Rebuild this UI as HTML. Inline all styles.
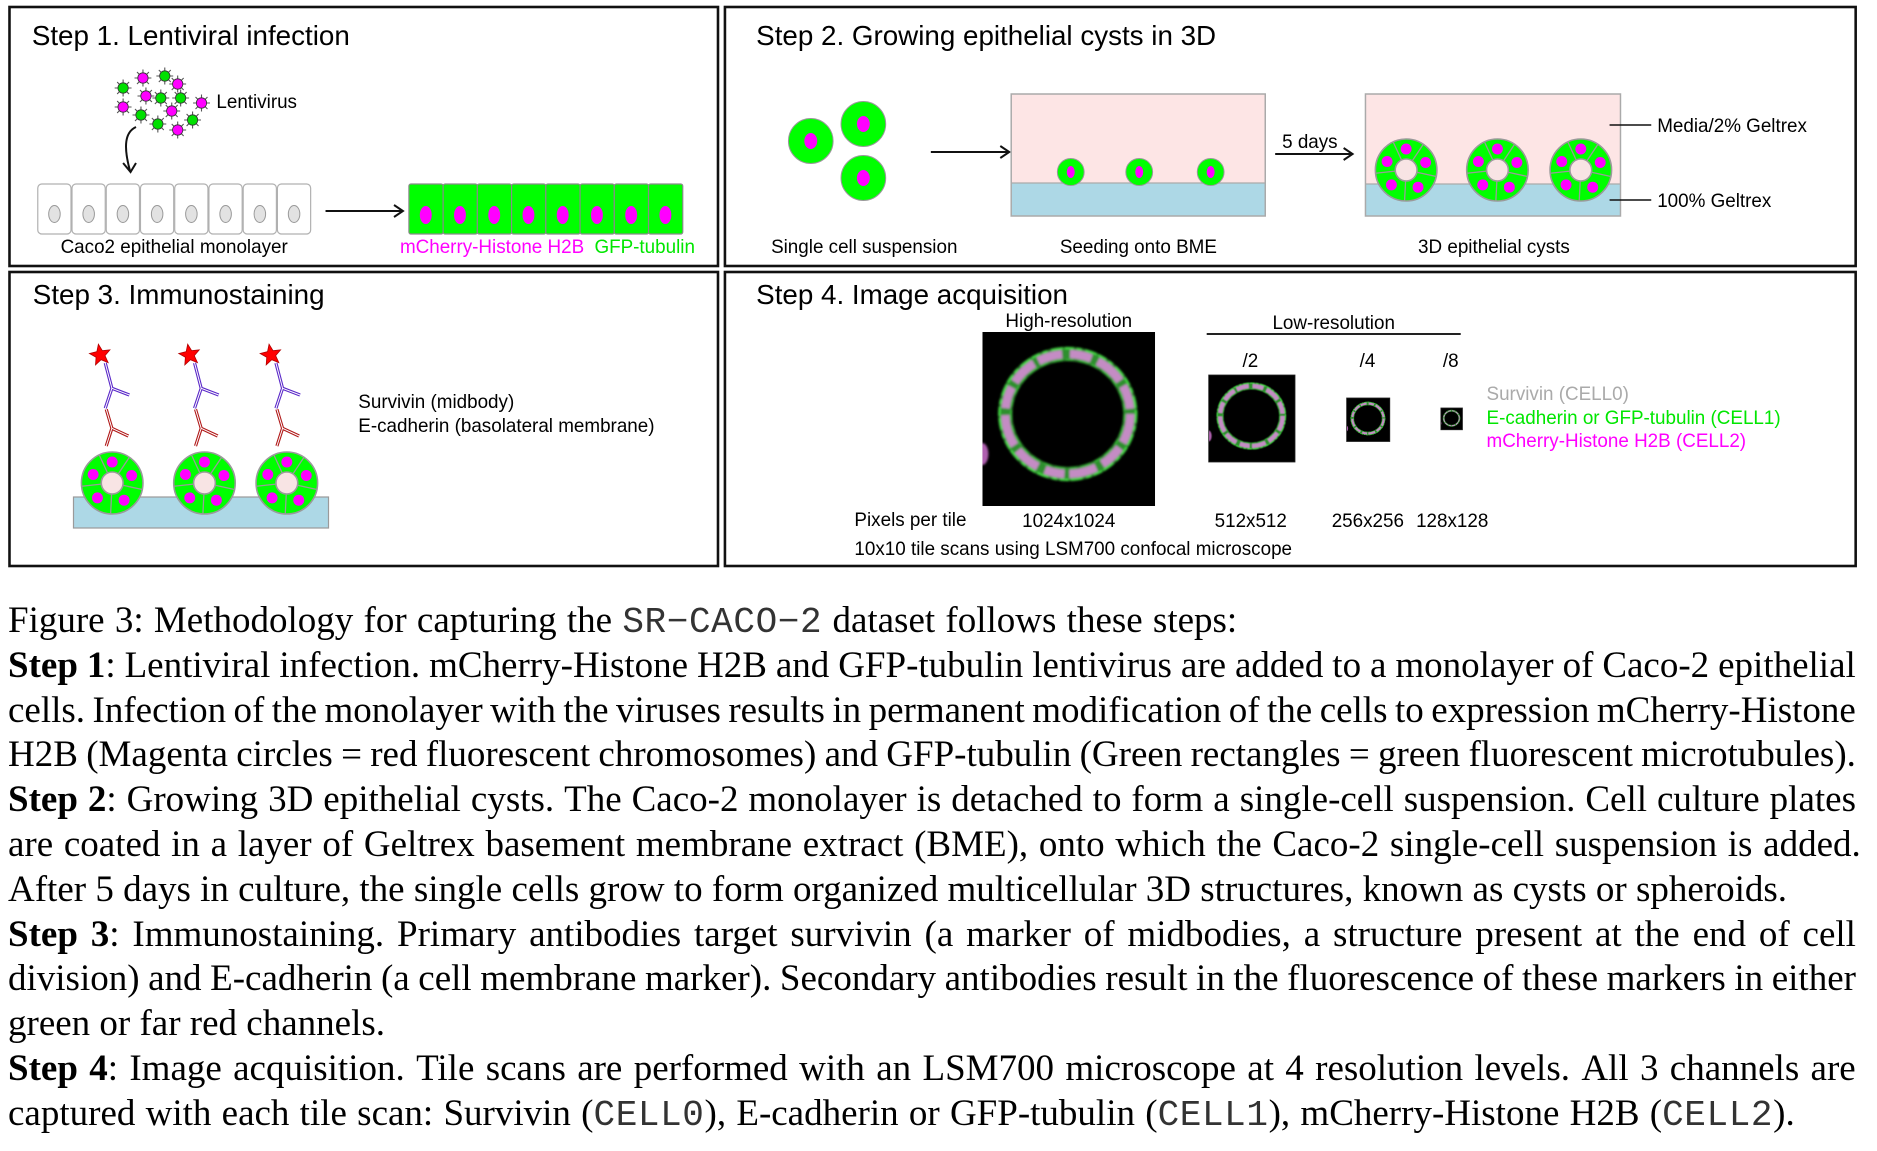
<!DOCTYPE html>
<html><head><meta charset="utf-8"><style>
html,body{margin:0;padding:0;background:#fff;}
body{width:1877px;height:1151px;position:relative;overflow:hidden;}
#cap{position:absolute;left:8px;top:599px;width:1848px;font-family:"Liberation Serif","Times New Roman",serif;font-size:37px;line-height:44.8px;color:#000;}
#cap > div{white-space:nowrap;height:44.8px;}
#cap > div.j{display:flex;justify-content:space-between;}
.tt{font-family:"Liberation Mono",monospace;font-size:36px;color:#333;letter-spacing:0.6px;}
</style></head><body>
<svg width="1877" height="580" style="position:absolute;left:0;top:0" font-family="Liberation Sans, Arial, sans-serif" xmlns="http://www.w3.org/2000/svg">
<defs>
  <g id="vs"><path d="M5 0H8.5M-5 0H-8.5M0 5V8.5M0 -5V-8.5M3.54 3.54L6.01 6.01M-3.54 -3.54L-6.01 -6.01M3.54 -3.54L6.01 -6.01M-3.54 3.54L-6.01 6.01" stroke="#555" stroke-width="1.1"/></g>
  <g id="vg"><use href="#vs"/><circle r="5.2" fill="#00e000" stroke="#333" stroke-width="0.8"/></g>
  <g id="vm"><use href="#vs"/><circle r="5.2" fill="#ff00ff" stroke="#333" stroke-width="0.8"/></g>
  <g id="cyst">
    <circle r="31" fill="#00ff00" stroke="#9a9a9a" stroke-width="1.6"/>
    <path d="M-4.65 -9.97L-13.1 -28.1M6.15 -9.12L17.3 -25.7M10.76 2.29L30.3 6.45M-0.58 10.99L-1.6 30.96M-10.94 1.15L-30.8 3.24" stroke="#9a9a9a" stroke-width="1.3"/>
    <circle r="11" fill="#f8e4e4" stroke="#9a9a9a" stroke-width="1.6"/>
    <circle cx="0" cy="-21" r="5.5" fill="#ff00ff"/>
    <circle cx="19.6" cy="-7.5" r="5.5" fill="#ff00ff"/>
    <circle cx="12" cy="17.2" r="5.5" fill="#ff00ff"/>
    <circle cx="-14.85" cy="14.85" r="5.5" fill="#ff00ff"/>
    <circle cx="-19.2" cy="-8.5" r="5.5" fill="#ff00ff"/>
  </g>
  <g id="ab">
    <path d="M5 8L11.7 33.3L5 53.3M11.7 33.3L29.3 40" fill="none" stroke="#5a28c8" stroke-width="3.2"/>
    <path d="M5 8L11.7 33.3L5 53.3M11.7 33.3L29.3 40" fill="none" stroke="#fff" stroke-width="1"/>
    <path d="M6 54.3L11.7 73.3L6 91M11.7 73.3L28.3 81" fill="none" stroke="#b01818" stroke-width="3.2"/>
    <path d="M6 54.3L11.7 73.3L6 91M11.7 73.3L28.3 81" fill="none" stroke="#fff" stroke-width="1"/>
    <polygon points="-1.91,-10.83 2.10,-4.31 9.71,-5.16 4.75,0.67 7.91,7.64 0.83,4.73 -4.82,9.89 -4.24,2.25 -10.89,-1.53 -3.45,-3.34" fill="#ff0000" stroke="#b00000" stroke-width="0.8"/>
  </g>
  <filter id="bl" x="-20%" y="-20%" width="140%" height="140%"><feGaussianBlur stdDeviation="1.1"/></filter>
  <clipPath id="cp"><rect width="174" height="174"/></clipPath>
  <g id="ring" clip-path="url(#cp)">
    <rect width="174" height="174" fill="#000"/>
    <g filter="url(#bl)">
      <ellipse cx="86" cy="82" rx="63" ry="60" fill="none" stroke="#2f8f2f" stroke-width="14"/>
      <ellipse cx="86" cy="82" rx="63" ry="60" fill="none" stroke="#c48cc4" stroke-width="8.5" stroke-dasharray="30 6 24 7 28 5 20 8 26 6 32 7 22 6 27 5 25 8 22 7"/>
      <ellipse cx="86" cy="82" rx="69" ry="66" fill="none" stroke="#44e044" stroke-width="2.2" stroke-dasharray="9 3 5 4 12 2"/>
      <ellipse cx="86" cy="82" rx="57" ry="54" fill="none" stroke="#38c038" stroke-width="1.6" stroke-dasharray="7 5 10 4"/>
      <ellipse cx="0" cy="122" rx="6" ry="11" fill="#b060b0"/>
    </g>
  </g>
</defs>

<g transform="translate(8,0) scale(0.9923,1) translate(-8,0)">
<!-- Boxes -->
<g fill="none" stroke="#111" stroke-width="2.6">
  <rect x="9.5" y="7" width="714" height="259"/>
  <rect x="730.5" y="7" width="1139.5" height="259"/>
  <rect x="9.5" y="272" width="714" height="294"/>
  <rect x="730.5" y="272" width="1139.5" height="294"/>
</g>

<!-- Titles -->
<g font-size="28" fill="#000">
  <text x="32" y="45">Step 1. Lentiviral infection</text>
  <text x="762" y="45">Step 2. Growing epithelial cysts in 3D</text>
  <text x="33" y="304">Step 3. Immunostaining</text>
  <text x="762" y="304">Step 4. Image acquisition</text>
</g>

<!-- Step 1 -->
<g>
  <use href="#vg" x="124" y="88"/><use href="#vg" x="166" y="76"/><use href="#vg" x="162" y="98"/>
  <use href="#vg" x="182" y="98"/><use href="#vg" x="142" y="115"/><use href="#vg" x="159" y="124"/>
  <use href="#vg" x="194" y="120"/>
  <use href="#vm" x="144" y="78"/><use href="#vm" x="179" y="84"/><use href="#vm" x="147" y="96"/>
  <use href="#vm" x="124" y="107"/><use href="#vm" x="173" y="111"/><use href="#vm" x="203" y="103"/>
  <use href="#vm" x="179" y="130"/>
  <text x="218" y="108" font-size="19">Lentivirus</text>
  <path d="M137 127C126 132 124 146 131 171" fill="none" stroke="#111" stroke-width="2"/>
  <path d="M124 163L131.5 172L137 163" fill="none" stroke="#111" stroke-width="2"/>
</g>
<g stroke="#b0b0b0" stroke-width="1.2" fill="#fff">
  <rect x="38" y="184" width="33.5" height="50" rx="4"/>
  <rect x="72.5" y="184" width="33.5" height="50" rx="4"/>
  <rect x="107" y="184" width="33.5" height="50" rx="4"/>
  <rect x="141.5" y="184" width="33.5" height="50" rx="4"/>
  <rect x="176" y="184" width="33.5" height="50" rx="4"/>
  <rect x="210.5" y="184" width="33.5" height="50" rx="4"/>
  <rect x="245" y="184" width="33.5" height="50" rx="4"/>
  <rect x="279.5" y="184" width="33.5" height="50" rx="4"/>
</g>
<g fill="#e2e2e2" stroke="#999" stroke-width="1">
  <ellipse cx="54.8" cy="214" rx="5.8" ry="8.5"/><ellipse cx="89.3" cy="214" rx="5.8" ry="8.5"/>
  <ellipse cx="123.8" cy="214" rx="5.8" ry="8.5"/><ellipse cx="158.3" cy="214" rx="5.8" ry="8.5"/>
  <ellipse cx="192.8" cy="214" rx="5.8" ry="8.5"/><ellipse cx="227.3" cy="214" rx="5.8" ry="8.5"/>
  <ellipse cx="261.8" cy="214" rx="5.8" ry="8.5"/><ellipse cx="296.3" cy="214" rx="5.8" ry="8.5"/>
</g>
<path d="M328 211H405M397 205L406 211L397 217" fill="none" stroke="#111" stroke-width="2"/>
<g stroke="#8a8a8a" stroke-width="1.2" fill="#00ff00">
  <rect x="412" y="184" width="34.5" height="50" rx="2"/>
  <rect x="446.5" y="184" width="34.5" height="50" rx="2"/>
  <rect x="481" y="184" width="34.5" height="50" rx="2"/>
  <rect x="515.5" y="184" width="34.5" height="50" rx="2"/>
  <rect x="550" y="184" width="34.5" height="50" rx="2"/>
  <rect x="584.5" y="184" width="34.5" height="50" rx="2"/>
  <rect x="619" y="184" width="34.5" height="50" rx="2"/>
  <rect x="653.5" y="184" width="34.5" height="50" rx="2"/>
</g>
<g fill="#ff00ff">
  <ellipse cx="429" cy="215" rx="6" ry="9"/><ellipse cx="463.5" cy="215" rx="6" ry="9"/>
  <ellipse cx="498" cy="215" rx="6" ry="9"/><ellipse cx="532.5" cy="215" rx="6" ry="9"/>
  <ellipse cx="567" cy="215" rx="6" ry="9"/><ellipse cx="601.5" cy="215" rx="6" ry="9"/>
  <ellipse cx="636" cy="215" rx="6" ry="9"/><ellipse cx="670.5" cy="215" rx="6" ry="9"/>
</g>
<g font-size="19">
  <text x="61" y="253" fill="#000">Caco2 epithelial monolayer</text>
  <text x="403" y="253" fill="#ff00ff">mCherry-Histone H2B</text>
  <text x="599" y="253" fill="#00e600">GFP-tubulin</text>
</g>

<!-- Step 2 -->
<g stroke="#999" stroke-width="1">
  <circle cx="817" cy="141" r="22.5" fill="#00ff00"/>
  <circle cx="870" cy="124" r="22.5" fill="#00ff00"/>
  <circle cx="870" cy="178" r="22.5" fill="#00ff00"/>
</g>
<g fill="#ff00ff">
  <ellipse cx="817" cy="141" rx="6.5" ry="8"/>
  <ellipse cx="870" cy="124" rx="6.5" ry="8"/>
  <ellipse cx="870" cy="178" rx="6.5" ry="8"/>
</g>
<path d="M938 152H1016M1008 146L1017 152L1008 158" fill="none" stroke="#111" stroke-width="2"/>
<rect x="1019" y="94" width="256" height="89" fill="#fde5e5"/>
<rect x="1019" y="183" width="256" height="33" fill="#add8e6"/>
<rect x="1019" y="94" width="256" height="122" fill="none" stroke="#aaa" stroke-width="1.5"/>
<line x1="1019" y1="183" x2="1275" y2="183" stroke="#aaa" stroke-width="1.2"/>
<g stroke="#999" stroke-width="1" fill="#00ff00">
  <ellipse cx="1079" cy="172" rx="13.5" ry="13.5"/>
  <ellipse cx="1148" cy="172" rx="13.5" ry="13.5"/>
  <ellipse cx="1220" cy="172" rx="13.5" ry="13.5"/>
</g>
<g fill="#ff00ff">
  <ellipse cx="1079" cy="172" rx="4" ry="6"/>
  <ellipse cx="1148" cy="172" rx="4" ry="6"/>
  <ellipse cx="1220" cy="172" rx="4" ry="6"/>
</g>
<text x="1292" y="148" font-size="19">5 days</text>
<path d="M1285 154H1362M1354 148L1363 154L1354 160" fill="none" stroke="#111" stroke-width="2"/>
<rect x="1376" y="94" width="257" height="90" fill="#fde5e5"/>
<rect x="1376" y="184" width="257" height="32" fill="#add8e6"/>
<rect x="1376" y="94" width="257" height="122" fill="none" stroke="#aaa" stroke-width="1.5"/>
<line x1="1376" y1="184" x2="1633" y2="184" stroke="#aaa" stroke-width="1.2"/>
<use href="#cyst" x="1417" y="170"/>
<use href="#cyst" x="1509" y="170"/>
<use href="#cyst" x="1593" y="170"/>
<path d="M1622 125H1664M1622 200H1664" stroke="#111" stroke-width="1.6"/>
<g font-size="19">
  <text x="1670" y="132">Media/2% Geltrex</text>
  <text x="1670" y="207">100% Geltrex</text>
  <text x="777" y="253">Single cell suspension</text>
  <text x="1068" y="253">Seeding onto BME</text>
  <text x="1429" y="253">3D epithelial cysts</text>
</g>

<!-- Step 3 -->
<rect x="74" y="497" width="257" height="31" fill="#add8e6" stroke="#9a9a9a" stroke-width="1.2"/>
<use href="#cyst" x="113" y="483"/>
<use href="#cyst" x="206" y="483"/>
<use href="#cyst" x="289" y="483"/>
<use href="#ab" x="101" y="355"/>
<use href="#ab" x="191" y="355"/>
<use href="#ab" x="273" y="355"/>
<g font-size="19">
  <text x="361" y="408">Survivin (midbody)</text>
  <text x="361" y="432">E-cadherin (basolateral membrane)</text>
</g>

<!-- Step 4 -->
<g font-size="19">
  <text x="1077" y="327" text-anchor="middle">High-resolution</text>
  <text x="1344" y="329" text-anchor="middle">Low-resolution</text>
  <text x="1260" y="367" text-anchor="middle">/2</text>
  <text x="1378" y="367" text-anchor="middle">/4</text>
  <text x="1462" y="367" text-anchor="middle">/8</text>
</g>
<line x1="1216" y1="334" x2="1472" y2="334" stroke="#222" stroke-width="2"/>
<use href="#ring" transform="translate(990,332)"/>
<use href="#ring" transform="translate(1218,375) scale(0.5)"/>
<use href="#ring" transform="translate(1357,398) scale(0.25)"/>
<use href="#ring" transform="translate(1452,408) scale(0.125)"/>
<rect x="1218" y="375" width="87" height="87" fill="none" stroke="#222" stroke-width="0.8"/>
<rect x="1357" y="398" width="43.5" height="43.5" fill="none" stroke="#222" stroke-width="0.8"/>
<rect x="1452" y="408" width="21.75" height="21.75" fill="none" stroke="#222" stroke-width="0.8"/>
<g font-size="19">
  <text x="1498" y="400" fill="#aaaaaa">Survivin (CELL0)</text>
  <text x="1498" y="424" fill="#00e600">E-cadherin or GFP-tubulin (CELL1)</text>
  <text x="1498" y="447" fill="#ff00ff">mCherry-Histone H2B (CELL2)</text>
  <text x="861" y="526">Pixels per tile</text>
  <text x="1030" y="527">1024x1024</text>
  <text x="1224" y="527">512x512</text>
  <text x="1342" y="527">256x256</text>
  <text x="1427" y="527">128x128</text>
  <text x="861" y="555">10x10 tile scans using LSM700 confocal microscope</text>
</g>
</g>
</svg>

<div id="cap">
<div style="word-spacing:1px">Figure 3: Methodology for capturing the <span class="tt">SR−CACO−2</span> dataset follows these steps:</div>
<div class="j"><span><b>Step</b></span><span><b>1</b>:</span><span>Lentiviral</span><span>infection.</span><span>mCherry-Histone</span><span>H2B</span><span>and</span><span>GFP-tubulin</span><span>lentivirus</span><span>are</span><span>added</span><span>to</span><span>a</span><span>monolayer</span><span>of</span><span>Caco-2</span><span>epithelial</span></div>
<div class="j"><span>cells.</span><span>Infection</span><span>of</span><span>the</span><span>monolayer</span><span>with</span><span>the</span><span>viruses</span><span>results</span><span>in</span><span>permanent</span><span>modification</span><span>of</span><span>the</span><span>cells</span><span>to</span><span>expression</span><span>mCherry-Histone</span></div>
<div class="j"><span>H2B</span><span>(Magenta</span><span>circles</span><span>=</span><span>red</span><span>fluorescent</span><span>chromosomes)</span><span>and</span><span>GFP-tubulin</span><span>(Green</span><span>rectangles</span><span>=</span><span>green</span><span>fluorescent</span><span>microtubules).</span></div>
<div class="j"><span><b>Step</b></span><span><b>2</b>:</span><span>Growing</span><span>3D</span><span>epithelial</span><span>cysts.</span><span>The</span><span>Caco-2</span><span>monolayer</span><span>is</span><span>detached</span><span>to</span><span>form</span><span>a</span><span>single-cell</span><span>suspension.</span><span>Cell</span><span>culture</span><span>plates</span></div>
<div class="j" style="width:1853px"><span>are</span><span>coated</span><span>in</span><span>a</span><span>layer</span><span>of</span><span>Geltrex</span><span>basement</span><span>membrane</span><span>extract</span><span>(BME),</span><span>onto</span><span>which</span><span>the</span><span>Caco-2</span><span>single-cell</span><span>suspension</span><span>is</span><span>added.</span></div>
<div>After 5 days in culture, the single cells grow to form organized multicellular 3D structures, known as cysts or spheroids.</div>
<div class="j"><span><b>Step</b></span><span><b>3</b>:</span><span>Immunostaining.</span><span>Primary</span><span>antibodies</span><span>target</span><span>survivin</span><span>(a</span><span>marker</span><span>of</span><span>midbodies,</span><span>a</span><span>structure</span><span>present</span><span>at</span><span>the</span><span>end</span><span>of</span><span>cell</span></div>
<div class="j"><span>division)</span><span>and</span><span>E-cadherin</span><span>(a</span><span>cell</span><span>membrane</span><span>marker).</span><span>Secondary</span><span>antibodies</span><span>result</span><span>in</span><span>the</span><span>fluorescence</span><span>of</span><span>these</span><span>markers</span><span>in</span><span>either</span></div>
<div>green or far red channels.</div>
<div class="j"><span><b>Step</b></span><span><b>4</b>:</span><span>Image</span><span>acquisition.</span><span>Tile</span><span>scans</span><span>are</span><span>performed</span><span>with</span><span>an</span><span>LSM700</span><span>microscope</span><span>at</span><span>4</span><span>resolution</span><span>levels.</span><span>All</span><span>3</span><span>channels</span><span>are</span></div>
<div style="word-spacing:1px">captured with each tile scan: Survivin (<span class="tt">CELL0</span>), E-cadherin or GFP-tubulin (<span class="tt">CELL1</span>), mCherry-Histone H2B (<span class="tt">CELL2</span>).</div>
</div>
</body></html>
